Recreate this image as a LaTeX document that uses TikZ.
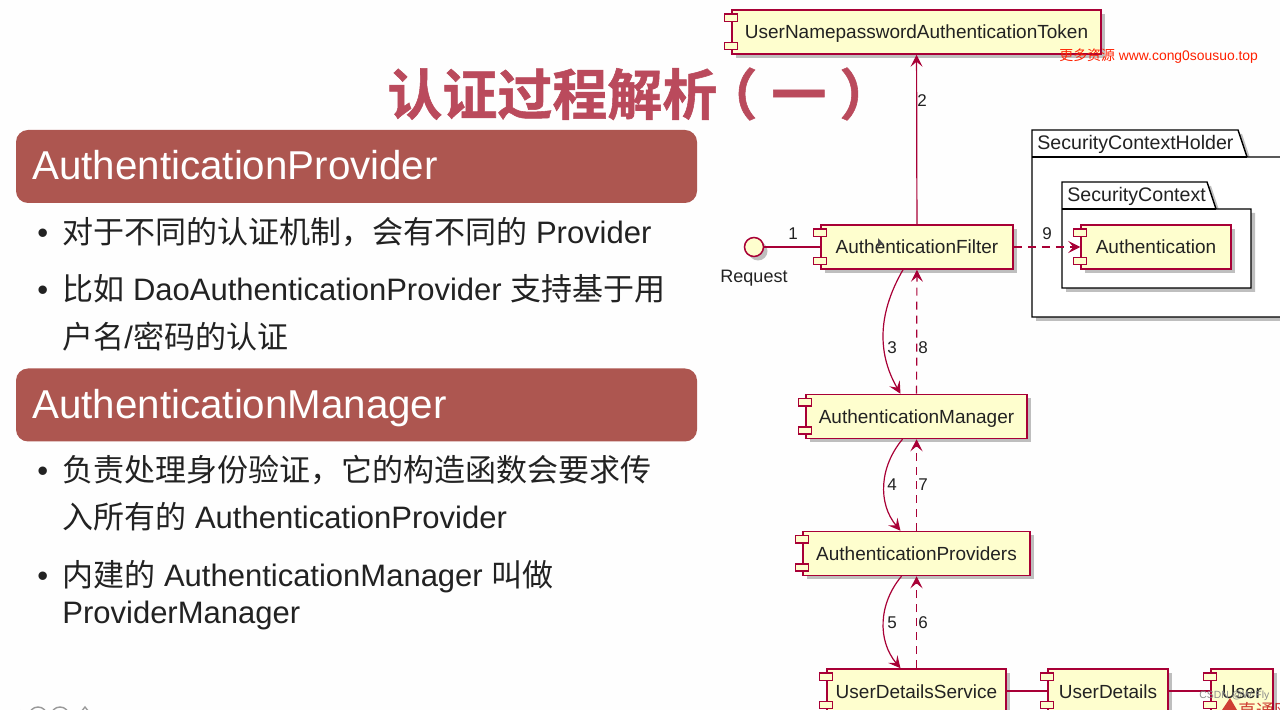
\documentclass[tikz,border=0pt]{standalone}
\usepackage{xcolor}
\usepackage{fontspec}
\setmainfont{Liberation Sans}
\newfontfamily\cjk{Noto Sans CJK SC}
\newfontfamily\cjkbold[FakeBold=1]{Noto Sans CJK SC Bold}
\usetikzlibrary{positioning, shadows, arrows.meta}

\definecolor{compline}{HTML}{A80036}
\definecolor{compfill}{HTML}{FEFECE}
\definecolor{barred}{HTML}{AD5650}
\definecolor{titlered}{HTML}{BA4A5C}
\definecolor{inktext}{HTML}{222222}

\tikzset{
  softshadow/.style={drop shadow={shadow xshift=2pt, shadow yshift=-2pt, opacity=.25, fill=black}},
  compbox/.style={draw=compline, fill=compfill, line width=.75pt, rectangle, inner sep=0pt, softshadow,
    font=\fontsize{9.5pt}{11pt}\selectfont, text=inktext, minimum height=22pt, text height=9pt, text depth=2pt},
  pkgline/.style={draw=black, fill=white, line width=.7pt, softshadow},
  flowline/.style={draw=compline, line width=.6pt, -{Stealth[length=6pt,width=6pt,inset=2.5pt]}},
  backline/.style={flowline, dash pattern=on 4pt off 3pt},
  plainline/.style={draw=compline, line width=.6pt},
  steplabel/.style={font=\fontsize{8.5pt}{10pt}\selectfont, text=inktext},
  pkgname/.style={anchor=west, inner sep=0pt, font=\fontsize{9.8pt}{11pt}\selectfont, text=inktext},
  barbox/.style={rectangle, rounded corners=6pt, fill=barred, minimum width=340.5pt, minimum height=36.5pt},
  bartext/.style={font=\fontsize{20.15pt}{22pt}\selectfont, text=white, anchor=base west, inner sep=0pt},
  slidetext/.style={font=\fontsize{15.5pt}{18pt}\selectfont, text=inktext, anchor=base west, inner sep=0pt}
}

\begin{document}
\begin{tikzpicture}[x=.5pt, y=-.5pt]
  \useasboundingbox[fill=white!99.5!black] (0,0) rectangle (1280,710);
  \clip (0,0) rectangle (1280,710);

  % title
  \node[anchor=west, inner sep=0pt, text=titlered, font=\fontsize{27.5pt}{30pt}\cjkbold] (title) at (387,94) {认证过程解析\hspace{-7.5pt}（\hspace{7pt}一\hspace{6.5pt}）};

  % red bars
  \node[barbox] (barone) at (356.5,166.5) {};
  \node[barbox] (bartwo) at (356.5,405) {};
  \node[bartext] (baronetext) at (32,180) {AuthenticationProvider};
  \node[bartext] (bartwotext) at (32,419) {AuthenticationManager};

  % slide text
  \foreach \n/\y/\txt in {
    a/244/{{\cjk 对于不同的认证机制，会有不同的} Provider},
    b/301/{{\cjk 比如} DaoAuthenticationProvider {\cjk 支持基于用}},
    c/349/{{\cjk 户名}/{\cjk 密码的认证}},
    d/482/{{\cjk 负责处理身份验证，它的构造函数会要求传}},
    e/529/{{\cjk 入所有的} AuthenticationProvider},
    f/587/{{\cjk 内建的} AuthenticationManager {\cjk 叫做}},
    g/624/{ProviderManager}}{
    \node[slidetext] (line\n) at (62,\y) {\txt};
  }
  \foreach \n/\y in {a/244,b/301,d/482,f/587}{
    \node[slidetext] (dot\n) at (37,\y) {•};
  }

  % packages
  \draw[pkgline] (1032,157) -- (1032,130) -- (1238,130) -- (1247,157) -- (1290,157) -- (1290,317) -- (1032,317) -- cycle;
  \draw[line width=.7pt] (1032,157) -- (1247,157);
  \draw[pkgline] (1062,209) -- (1062,182) -- (1207,182) -- (1216,209) -- (1251,209) -- (1251,288) -- (1062,288) -- cycle;
  \draw[line width=.7pt] (1062,209) -- (1216,209);
  \node[pkgname] (holdername) at (1037,144) {SecurityContextHolder};
  \node[pkgname] (contextname) at (1067,196) {SecurityContext};

  % components
  \node[compbox, minimum width=184.5pt] (token) at (916.5,32) {UserNamepasswordAuthenticationToken};
  \node[compbox, minimum width=96pt] (filter) at (917,247) {AuthenticationFilter};
  \node[compbox, minimum width=75pt] (authn) at (1156,247) {Authentication};
  \node[compbox, minimum width=110.5pt] (manager) at (916.5,416.5) {AuthenticationManager};
  \node[compbox, minimum width=113.5pt] (providers) at (916.5,553.5) {AuthenticationProviders};
  \node[compbox, minimum width=89.5pt] (service) at (916.5,691) {UserDetailsService};
  \node[compbox, minimum width=60pt] (details) at (1108,691) {UserDetails};
  \node[compbox, minimum width=31pt] (user) at (1242,691) {User};

  % small ports on the left side
  \foreach \n in {token,filter,authn,manager,providers,service,details,user}{
    \draw[draw=compline, fill=compfill, line width=.75pt] ([xshift=-3.5pt,yshift=-2.5pt]\n.north west) rectangle ++(6.5pt,-3.6pt);
    \draw[draw=compline, fill=compfill, line width=.75pt] ([xshift=-3.5pt,yshift=2.5pt]\n.south west) rectangle ++(6.5pt,3.6pt);
  }

  % request
  \node[circle, draw=compline, fill=compfill, line width=.75pt, minimum size=9.5pt, inner sep=0pt, softshadow] (request) at (754,247) {};
  \node[steplabel, font=\fontsize{9pt}{11pt}\selectfont] (requestname) at (754,278) {Request};

  % connectors
  \draw[plainline] (request) -- (filter);
  \draw[flowline] (filter) -- (token);
  \draw[backline] (filter) -- (authn);
  \draw[flowline] ([xshift=-7pt]filter.south) to[out=240, in=120] ([xshift=-8pt]manager.north);
  \draw[flowline] ([xshift=-7pt]manager.south) to[out=230, in=130] ([xshift=-8pt]providers.north);
  \draw[flowline] ([xshift=-7.5pt]providers.south) to[out=230, in=130] ([xshift=-8pt]service.north);
  \draw[backline] (manager) -- (filter);
  \draw[backline] (providers) -- (manager);
  \draw[backline] (service) -- (providers);
  \draw[plainline] (service) -- (details);
  \draw[plainline] (details) -- (user);

  % step numbers
  \foreach \n/\x/\y in {1/793/234, 2/922/101, 3/892/348, 4/892/485, 5/892/623, 6/923/623, 7/923/485, 8/923/348, 9/1047/234}{
    \node[steplabel] (num\n) at (\x,\y) {\n};
  }

  % mouse pointer
  \fill[black!70] (878,238) -- (878,247) -- (880.5,245) -- (884,244.5) -- cycle;

  % watermarks
  \node[anchor=west, inner sep=0pt, text=red!75!orange, font=\fontsize{6.95pt}{8pt}\selectfont] (webmark) at (1059,56) {{\cjk 更多资源} www.cong0sousuo.top};
  \fill[red!75!black, opacity=.75] (1222,710) -- (1230,698) -- (1237,710) -- cycle;
  \node[anchor=west, inner sep=0pt, text=red!75!black, opacity=.75, font=\fontsize{9pt}{10pt}\cjk] (sitemark) at (1238,711) {直通网};
  \node[anchor=west, inner sep=0pt, text=black!45, font=\fontsize{5.2pt}{6pt}\selectfont] (csdnmark) at (1199,696) {CSDN @W-Fly};

  % player icons
  \foreach \x in {38,60}{
    \draw[black!40, line width=.7pt] (\x,716) circle[radius=9];
  }
  \fill[black!50] (20,716) circle[radius=6];
  \draw[black!40, line width=.7pt] (81,712) -- (85,707) -- (89,712);
\end{tikzpicture}
\end{document}
